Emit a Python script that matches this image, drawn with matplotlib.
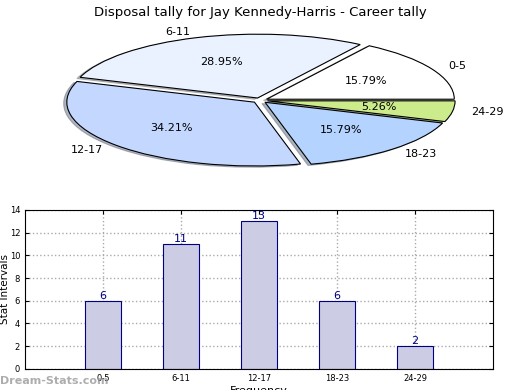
import matplotlib
matplotlib.use("Agg")
import matplotlib.pyplot as plt

categories = ["0-5", "6-11", "12-17", "18-23", "24-29"]
counts = [6, 11, 13, 6, 2]
pie_colors = ["#ffffff", "#eaf1ff", "#c4d8ff", "#b4d4ff", "#cceb8a"]
title = "Disposal tally for Jay Kennedy-Harris - Career tally"

fig = plt.figure(figsize=(5.2, 3.9), dpi=100)

# Pie
axp = fig.add_axes([0.103, 0.5625, 0.794, 0.36])
wedges, texts, autotexts = axp.pie(
    counts, labels=categories, colors=pie_colors, autopct="%.2f%%",
    explode=[0.04] * len(counts),
    shadow=dict(ox=-0.012, oy=-0.014, shade=0.5), startangle=0,
    pctdistance=0.6, labeldistance=1.1,
    wedgeprops=dict(edgecolor="black", linewidth=0.8),
    textprops=dict(fontsize=8))
axp.set_aspect("auto")
axp.set_xlim(-1.1, 1.1)
axp.set_ylim(-1.1, 1.1)
fig.text(0.5, 0.968, title, ha="center", va="center", fontsize=9.5)

# Bars
axb = fig.add_axes([0.048, 0.054, 0.9, 0.408])
x = list(range(1, len(categories) + 1))
bars = axb.bar(x, counts, width=0.46, color="#ccccE5", edgecolor="#000080",
               linewidth=0.8, zorder=2)
for xi, c in zip(x, counts):
    axb.text(xi, c, str(c), ha="center", va="bottom", color="#000080",
             fontsize=8, zorder=3)
axb.set_xlim(0, 6)
axb.set_ylim(0, 14)
axb.set_xticks(x)
axb.set_xticklabels(categories)
axb.set_yticks(range(0, 15, 2))
axb.tick_params(labelsize=6, direction="in", top=True, right=True, length=3)
axb.grid(True, linestyle=":", color="#aaaaaa", linewidth=1.0, zorder=0)
axb.set_axisbelow(True)
axb.set_ylabel("Stat Intervals", fontsize=7.5)
axb.yaxis.set_label_coords(-0.031, 0.5)
axb.set_xlabel("Frequency", fontsize=8, labelpad=2)

fig.text(0.0, 0.022, "Dream-Stats.com", color="#999999", fontsize=8,
         fontweight="bold", ha="left", va="center", alpha=0.8)

fig.savefig("out.png", dpi=100)
